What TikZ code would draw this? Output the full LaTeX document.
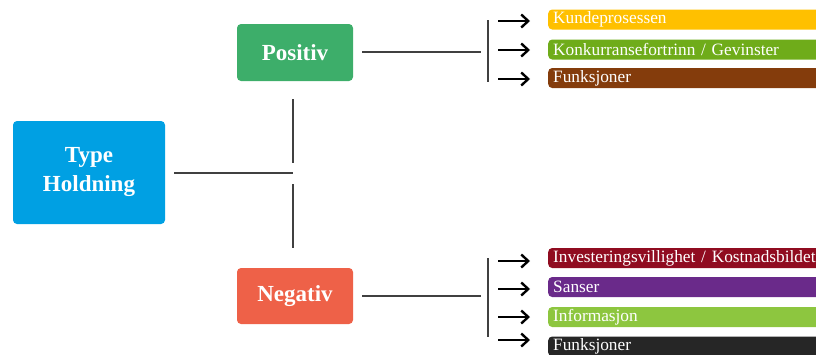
\documentclass[tikz,border=0pt]{standalone}
\usepackage{fontspec}
\setmainfont{Liberation Serif}
\usetikzlibrary{arrows.meta}
\definecolor{cType}{HTML}{00A0E3}
\definecolor{cPos}{HTML}{3DAE6A}
\definecolor{cNeg}{HTML}{EE6148}
\definecolor{cKunde}{HTML}{FFC000}
\definecolor{cKonk}{HTML}{6FAC1A}
\definecolor{cFunkA}{HTML}{843C0C}
\definecolor{cInv}{HTML}{900C20}
\definecolor{cSans}{HTML}{6A2A8A}
\definecolor{cInfo}{HTML}{8DC63F}
\definecolor{cFunkB}{HTML}{262626}
\definecolor{cLine}{HTML}{404040}
\tikzset{
  mainbox/.style={rounded corners=4pt, text=white, font=\bfseries\fontsize{23}{29}\selectfont, align=center, inner sep=0pt},
  bar/.style={rounded corners=4pt, text=white, font=\fontsize{17.3}{18}\selectfont, anchor=west, minimum width=290pt, minimum height=20pt, inner sep=0pt, inner xsep=5pt, text width=280pt, align=left},
  conn/.style={draw=cLine, line width=1.6pt},
  arr/.style={draw=black, line width=2.4pt, -{Straight Barb[length=7pt,width=13pt,line width=2.4pt]}}
}
\begin{document}
\begin{tikzpicture}[x=1pt,y=-1pt]
\useasboundingbox (0,0) rectangle (816,354);
\clip (0,0) rectangle (816,354);
% main boxes
\node[mainbox, fill=cType, minimum width=152pt, minimum height=103pt] (type) at (89,172.5) {Type\\Holdning};
\node[mainbox, fill=cPos, minimum width=116pt, minimum height=57pt] (pos) at (295,52.5) {Positiv};
\node[mainbox, fill=cNeg, minimum width=116pt, minimum height=56pt] (neg) at (295,296) {Negativ};
% junction coordinates
\coordinate (j) at (293,173);
\coordinate (jt) at (293,163);
\coordinate (jb) at (293,184);
\coordinate (pb) at (488,52);
\coordinate (nb) at (488,296);
\coordinate (pbt) at (488,20);
\coordinate (pbb) at (488,82);
\coordinate (nbt) at (488,258);
\coordinate (nbb) at (488,337);
% bars
\node[bar, fill=cKunde] (k1) at (548,19.5) {Kundeprosessen};
\node[bar, fill=cKonk] (k2) at (548,49.5) {Konkurransefortrinn / Gevinster};
\node[bar, fill=cFunkA] (k3) at (548,78) {Funksjoner};
\node[bar, fill=cInv] (n1) at (548,258) {Investeringsvillighet / Kostnadsbildet};
\node[bar, fill=cSans] (n2) at (548,287) {Sanser};
\node[bar, fill=cInfo] (n3) at (548,317) {Informasjon};
\node[bar, fill=cFunkB] (n4) at (548,346.5) {Funksjoner};
% connectors
\draw[conn, shorten <=9pt] (type.east |- j) -- (j);
\draw[conn, shorten <=18pt] (pos.south -| jt) -- (jt);
\draw[conn, shorten <=20pt] (neg.north -| jb) -- (jb);
\draw[conn, shorten <=9pt, shorten >=7pt] (pos.east |- pb) -- (pb);
\draw[conn, shorten <=9pt, shorten >=7pt] (neg.east |- nb) -- (nb);
\draw[conn] (pbt) -- (pbb);
\draw[conn] (nbt) -- (nbb);
% arrows
\foreach \b/\y in {k1/21,k2/50,k3/79,n1/261,n2/289,n3/317,n4/340}{
  \coordinate (a\b) at (498,\y);
  \draw[arr] (a\b) -- (530,\y);
}
\end{tikzpicture}
\end{document}
